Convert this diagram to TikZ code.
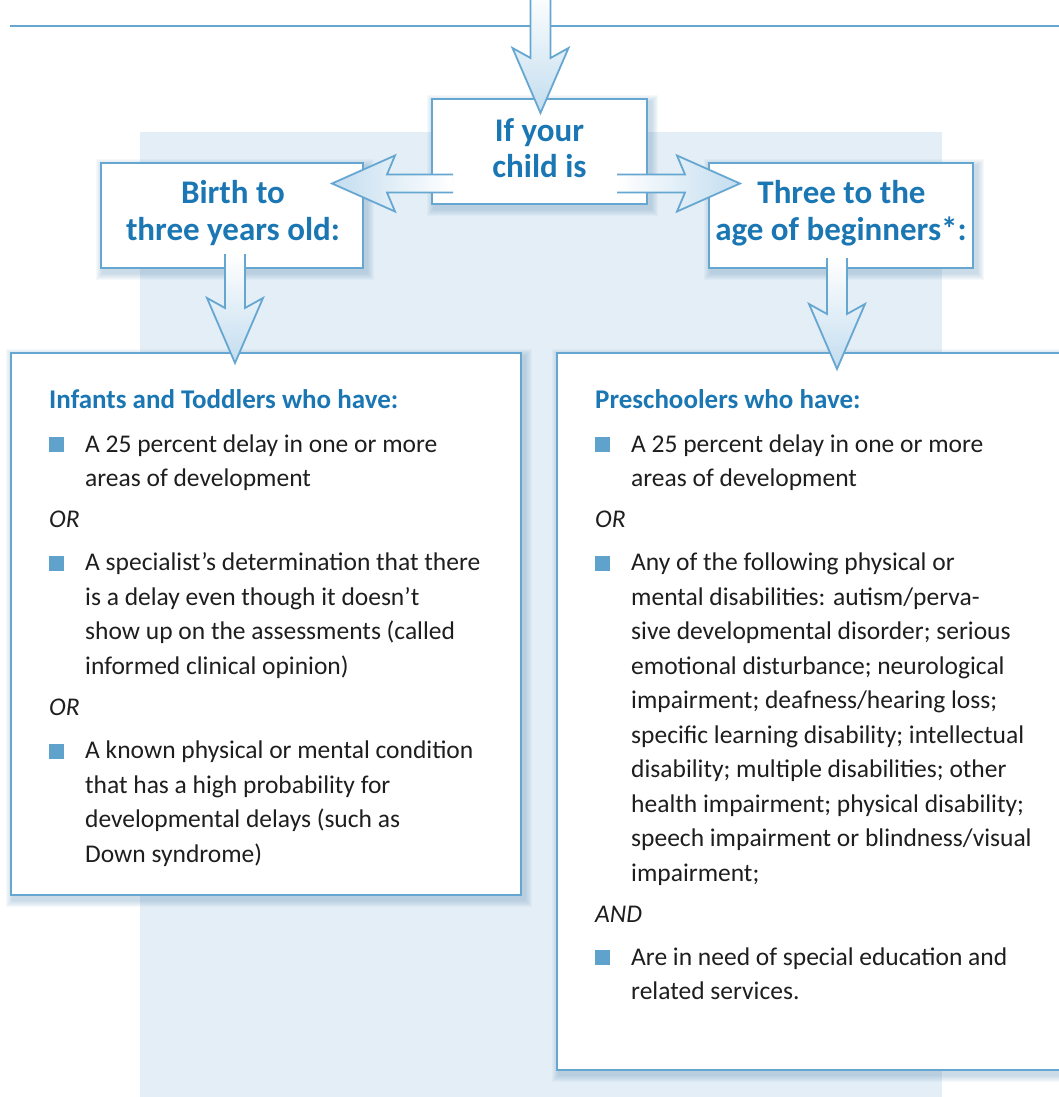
\documentclass[tikz,border=0pt]{standalone}
\usepackage{fontspec}
\setmainfont{Carlito}
\usetikzlibrary{calc}
\definecolor{bgblue}{HTML}{E3EEF6}
\definecolor{bordc}{HTML}{66A7D1}
\definecolor{titlec}{HTML}{1B77B3}
\definecolor{bulletc}{HTML}{5FA2CC}
\definecolor{textc}{HTML}{1E1E1E}
\definecolor{arrowc}{HTML}{C3DDEF}
\definecolor{shadowc}{HTML}{6F9FC0}
\pgfdeclarelayer{bglayer}
\pgfdeclarelayer{shadlayer}
\pgfsetlayers{bglayer,shadlayer,main}
\tikzset{
  box/.style={draw=bordc, line width=2.5pt, fill=white, inner sep=0pt},
  title/.style={anchor=base, inner sep=0pt, text=titlec, font=\fontsize{33}{36}\selectfont\bfseries},
  head/.style={anchor=base west, inner sep=0pt, text=titlec, font=\fontsize{27}{30}\selectfont\bfseries},
  body/.style={anchor=base west, inner sep=0pt, text=textc, font=\fontsize{25.5}{30}\selectfont},
  conj/.style={anchor=base west, inner sep=0pt, text=textc, font=\fontsize{25.5}{30}\selectfont\itshape},
  arrowline/.style={draw=bordc, line width=1.8pt, line join=miter},
  arrowshadow/.style={fill=shadowc, opacity=0.22, xshift=3pt, yshift=-3pt},
}
% vertical (downward) block arrow: #1 options, #2 start, #3 tip
\newcommand\myDownShape[3]{\path[#1] let \p1=(#2), \p2=(#3) in
  (\x1-10pt,\y1) -- (\x1-10pt,\y2+55pt) -- (\x1-28pt,\y2+65pt) -- (\x2,\y2) --
  (\x1+28pt,\y2+65pt) -- (\x1+10pt,\y2+55pt) -- (\x1+10pt,\y1) -- cycle;}
\newcommand\myDownLine[2]{\path[arrowline] let \p1=(#1), \p2=(#2) in
  (\x1-10pt,\y1) -- (\x1-10pt,\y2+55pt) -- (\x1-28pt,\y2+65pt) -- (\x2,\y2) --
  (\x1+28pt,\y2+65pt) -- (\x1+10pt,\y2+55pt) -- (\x1+10pt,\y1);}
\newcommand\myDownBlk[2]{%
  \myDownShape{arrowshadow}{#1}{#2}%
  \myDownShape{shade, top color=white, bottom color=arrowc}{#1}{#2}%
  \myDownLine{#1}{#2}}
% rightward block arrow
\newcommand\myRightShape[3]{\path[#1] let \p1=(#2), \p2=(#3) in
  (\x1,\y1+9pt) -- (\x2-55pt,\y1+9pt) -- (\x2-63pt,\y1+28pt) -- (\x2,\y2) --
  (\x2-63pt,\y1-28pt) -- (\x2-55pt,\y1-9pt) -- (\x1,\y1-9pt) -- cycle;}
\newcommand\myRightLine[2]{\path[arrowline] let \p1=(#1), \p2=(#2) in
  (\x1,\y1+9pt) -- (\x2-55pt,\y1+9pt) -- (\x2-63pt,\y1+28pt) -- (\x2,\y2) --
  (\x2-63pt,\y1-28pt) -- (\x2-55pt,\y1-9pt) -- (\x1,\y1-9pt);}
\newcommand\myRightBlk[2]{%
  \myRightShape{arrowshadow}{#1}{#2}%
  \myRightShape{shade, left color=white, right color=arrowc}{#1}{#2}%
  \myRightLine{#1}{#2}}
% leftward block arrow
\newcommand\myLeftShape[3]{\path[#1] let \p1=(#2), \p2=(#3) in
  (\x1,\y1+9pt) -- (\x2+55pt,\y1+9pt) -- (\x2+63pt,\y1+28pt) -- (\x2,\y2) --
  (\x2+63pt,\y1-28pt) -- (\x2+55pt,\y1-9pt) -- (\x1,\y1-9pt) -- cycle;}
\newcommand\myLeftLine[2]{\path[arrowline] let \p1=(#1), \p2=(#2) in
  (\x1,\y1+9pt) -- (\x2+55pt,\y1+9pt) -- (\x2+63pt,\y1+28pt) -- (\x2,\y2) --
  (\x2+63pt,\y1-28pt) -- (\x2+55pt,\y1-9pt) -- (\x1,\y1-9pt);}
\newcommand\myLeftBlk[2]{%
  \myLeftShape{arrowshadow}{#1}{#2}%
  \myLeftShape{shade, left color=arrowc, right color=white}{#1}{#2}%
  \myLeftLine{#1}{#2}}
% soft shadow around a node
\newcommand\mySoftShadow[1]{\foreach \k in {1,...,7}{%
  \fill[shadowc, opacity=0.06] ($(#1.north west)+(-\k+3,-\k+4)$) rectangle ($(#1.south east)+(\k+3,\k+4)$);}}
\newcommand\myBulletSq[2]{\fill[bulletc] (#1,#2-15) rectangle ++(15,15);}
\begin{document}
\begin{tikzpicture}[x=1pt,y=-1pt]
\useasboundingbox (0,0) rectangle (1059,1097);
\clip (0,0) rectangle (1059,1097);
\begin{pgfonlayer}{bglayer}
  \fill[white] (0,0) rectangle (1059,1097);
  \fill[bgblue] (140,132) rectangle (942,1100);
\end{pgfonlayer}
% top rule
\draw[bordc, line width=2pt] (10,26) -- (1070,26);
% boxes
\node[box, minimum width=215pt, minimum height=105pt] (q) at (539.5,151.5) {};
\node[box, minimum width=262pt, minimum height=105pt] (lb) at (232,215.5) {};
\node[box, minimum width=264pt, minimum height=105pt] (rb) at (841,215.5) {};
\node[box, minimum width=510pt, minimum height=542pt] (L) at (266,624) {};
\node[box, minimum width=523pt, minimum height=717pt] (R) at (818.5,711.5) {};
\begin{pgfonlayer}{shadlayer}
  \mySoftShadow{q}\mySoftShadow{lb}\mySoftShadow{rb}\mySoftShadow{L}\mySoftShadow{R}
\end{pgfonlayer}
% titles
\node[title] (q1) at (539.5,141.7) {If your};
\node[title] (q2) at (539.5,177) {child is};
\node[title] (lb1) at (233,203) {Birth to};
\node[title] (lb2) at (233,240) {three years old:};
\node[title] (rb1) at (841.5,203) {Three to the};
\node[title] (rb2) at (841,240) {age of beginners*:};
% left box content
\node[head] (Lh) at (49,408) {Infants and Toddlers who have:};
\myBulletSq{49}{452}
\node[body] (L1) at (85,452) {A 25 percent delay in one or more};
\node[body] (L2) at (85,486.5) {areas of development};
\node[conj] (Lo1) at (49,527.5) {OR};
\myBulletSq{49}{570.5}
\node[body] (L3) at (85,570.5) {A specialist’s determination that there};
\node[body] (L4) at (85,605) {is a delay even though it doesn’t};
\node[body] (L5) at (85,639.5) {show up on the assessments (called};
\node[body] (L6) at (85,674) {informed clinical opinion)};
\node[conj] (Lo2) at (49,715.5) {OR};
\myBulletSq{49}{758.5}
\node[body] (L7) at (85,758.5) {A known physical or mental condition};
\node[body] (L8) at (85,793) {that has a high probability for};
\node[body] (L9) at (85,827.5) {developmental delays (such as};
\node[body] (L10) at (85,862) {Down syndrome)};
% right box content
\node[head] (Rh) at (595,408) {Preschoolers who have:};
\myBulletSq{595}{452}
\node[body] (R1) at (631,452) {A 25 percent delay in one or more};
\node[body] (R2) at (631,486.5) {areas of development};
\node[conj] (Ro1) at (595,527.5) {OR};
\myBulletSq{595}{570.5}
\node[body] (R3) at (631,570.5) {Any of the following physical or};
\node[body] (R4) at (631,605) {mental disabilities: autism/perva-};
\node[body] (R5) at (631,639.5) {sive developmental disorder; serious};
\node[body] (R6) at (631,674) {emotional disturbance; neurological};
\node[body] (R7) at (631,708.5) {impairment; deafness/hearing loss;};
\node[body] (R8) at (631,743) {specific learning disability; intellectual};
\node[body] (R9) at (631,777.5) {disability; multiple disabilities; other};
\node[body] (R10) at (631,812) {health impairment; physical disability;};
\node[body] (R11) at (631,846.5) {speech impairment or blindness/visual};
\node[body] (R12) at (631,881) {impairment;};
\node[conj] (Ro2) at (595,922) {AND};
\myBulletSq{595}{965}
\node[body] (R13) at (631,965) {Are in need of special education and};
\node[body] (R14) at (631,999.5) {related services.};
% arrow end points
\coordinate (a0s) at (540.5,-10);
\coordinate (a0t) at (540.5,113);
\coordinate (a1s) at (453,183.5);
\coordinate (a1t) at (332,183.5);
\coordinate (a2s) at (617,183.5);
\coordinate (a2t) at (740,183.5);
\coordinate (a3s) at (235,254);
\coordinate (a3t) at (235,363);
\coordinate (a4s) at (837,258);
\coordinate (a4t) at (837,369);
% arrows
\myDownBlk{a0s}{a0t}
\myLeftBlk{a1s}{a1t}
\myRightBlk{a2s}{a2t}
\myDownBlk{a3s}{a3t}
\myDownBlk{a4s}{a4t}
\end{tikzpicture}
\end{document}
